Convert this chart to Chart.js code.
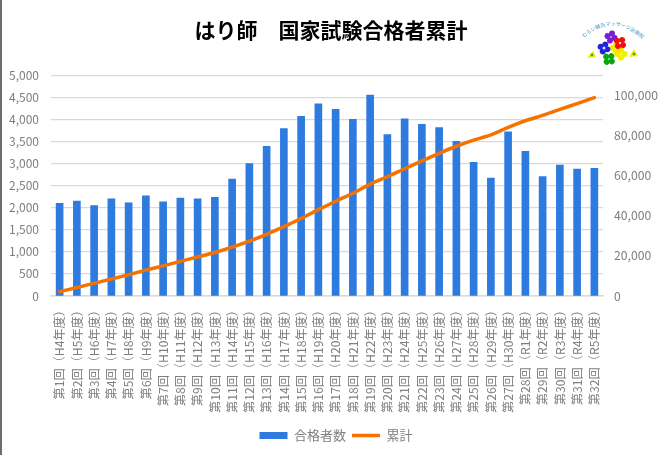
<!DOCTYPE html>
<html lang="ja">
<head>
<meta charset="utf-8">
<script src="https://cdn.jsdelivr.net/npm/chart.js@4"></script>
<style>
  html, body { margin: 0; padding: 0; background: #fff; }
  #wrap { position: relative; width: 662px; height: 455px; overflow: hidden; }
  #edge { position: absolute; left: 0; top: 0; width: 2px; height: 455px; background: #6e6e6e; }
  #chart { position: absolute; left: 0; top: 0; }
  #logo { position: absolute; left: 575px; top: 20px; }
</style>
</head>
<body>
<div id="wrap">
  <canvas id="chart" width="662" height="455"></canvas>
  <div id="edge"></div>
  <svg id="logo" width="75" height="50" viewBox="0 0 75 50">
    <defs>
      <path id="arc" d="M8 19 Q 37 -8 67 19"></path>
      <g id="petals">
        <circle cx="0" cy="-3.6" r="3"></circle>
        <circle cx="3.6" cy="0" r="3"></circle>
        <circle cx="0" cy="3.6" r="3"></circle>
        <circle cx="-3.6" cy="0" r="3"></circle>
      </g>
    </defs>
    <text font-family="Noto Sans CJK JP" font-size="5" fill="#3f97b8"><textPath href="#arc" startOffset="2%">むらい鍼灸マッサージ治療院</textPath></text>
    <polygon points="12,38 18,31 21,37" fill="#f6f000"></polygon>
    <polygon points="54,37 59,29 63,36" fill="#f6f000"></polygon>
    <circle cx="17" cy="35" r="1.4" fill="#3fa535"></circle>
    <circle cx="59" cy="34" r="1.4" fill="#3fa535"></circle>
    <use href="#petals" x="41" y="28" fill="#f6ee00"></use>
    <use href="#petals" x="46" y="34" fill="#f6ee00"></use>
    <use href="#petals" x="36" y="17" fill="#7a1fd6" transform="rotate(15 36 17)"></use>
    <use href="#petals" x="45" y="23" fill="#ee1111" transform="rotate(35 45 23)"></use>
    <use href="#petals" x="29" y="28" fill="#2222dd" transform="rotate(20 29 28)"></use>
    <use href="#petals" x="34" y="39" fill="#0da50d" transform="rotate(40 34 39)"></use>
    <circle cx="29" cy="28" r="1.5" fill="#cfd8ff"></circle>
    <circle cx="45" cy="23" r="1.2" fill="#ffd9a0"></circle>
  </svg>
</div>
<script>
// 試験回と年度
const kai = ['第1回','第2回','第3回','第4回','第5回','第6回','第7回','第8回','第9回','第10回','第11回','第12回','第13回','第14回','第15回','第16回','第17回','第18回','第19回','第20回','第21回','第22回','第23回','第24回','第25回','第26回','第27回','第28回','第29回','第30回','第31回','第32回'];
const nendo = ['H4','H5','H6','H7','H8','H9','H10','H11','H12','H13','H14','H15','H16','H17','H18','H19','H20','H21','H22','H23','H24','H25','H26','H27','H28','H29','H30','R1','R2','R3','R4','R5'];
const passed = [2100,2150,2050,2200,2110,2270,2130,2220,2200,2235,2650,3000,3390,3790,4070,4350,4225,4000,4550,3655,4010,3890,3815,3505,3025,2670,3715,3275,2705,2965,2875,2890];
const total = [2100,4250,6300,8500,10600,12900,15000,17250,19450,21700,24350,27350,30750,34550,38600,43000,47200,51200,55750,59400,63400,67300,71100,74600,77650,80300,84000,87300,90000,92950,95850,98850];
const rightTicks = [0,20000,40000,60000,80000,100000];

const labels = kai.map((k, i) => `${k}（${nendo[i]}年度）`);
const FONT = '"Noto Sans CJK JP", "Noto Sans", sans-serif';
const GREY = '#7f7f7f';
const fmt = new Intl.NumberFormat('en-US');

// 凡例を少し右へ
const legendShift = {
  id: 'legendShift',
  afterLayout(chart) { chart.legend.left += 5; chart.legend.right += 5; }
};

new Chart(document.getElementById('chart'), {
  plugins: [legendShift],
  data: {
    labels: labels,
    datasets: [
      { type: 'bar', label: '合格者数', data: passed, yAxisID: 'y', order: 2,
        backgroundColor: '#2e7be0', barThickness: 7 },
      { type: 'line', label: '累計', data: total, yAxisID: 'y2', order: 1,
        borderColor: '#f57200', backgroundColor: '#f57200', borderWidth: 3.5,
        pointRadius: 0, tension: 0.2, borderCapStyle: 'round' }
    ]
  },
  options: {
    responsive: false,
    animation: false,
    devicePixelRatio: 1,
    layout: { padding: { top: 17, bottom: 3 } },
    plugins: {
      title: { display: true, text: 'はり師　国家試験合格者累計', color: '#000',
        font: { family: FONT, size: 21, weight: 'bold' }, padding: { top: 0, bottom: 33 } },
      legend: { position: 'bottom',
        labels: { color: GREY, font: { family: FONT, size: 13 }, usePointStyle: true, pointStyleWidth: 28, boxHeight: 7, padding: 6,
          sort: (a, b) => a.datasetIndex - b.datasetIndex,
          generateLabels: chart => Chart.defaults.plugins.legend.labels.generateLabels(chart).map(item => {
            const isLine = item.datasetIndex === 1;
            return { ...item, pointStyle: isLine ? 'line' : 'rect', lineWidth: isLine ? 3.5 : 0,
              strokeStyle: isLine ? '#f57200' : '#2e7be0', fillStyle: isLine ? '#f57200' : '#2e7be0' };
          }) } },
      tooltip: { enabled: false }
    },
    scales: {
      x: {
        grid: { display: false, drawTicks: false },
        border: { color: '#d9d9d9', width: 1.5 },
        afterFit: s => { s.height = 127; },
        ticks: { autoSkip: false, minRotation: 90, maxRotation: 90, padding: 8, color: GREY,
          font: { family: FONT, size: 12.2 } }
      },
      y: {
        position: 'left', min: 0, max: 5000,
        afterFit: s => { s.width = 51; },
        grid: { color: '#d9d9d9', lineWidth: 1.3, drawTicks: false },
        border: { display: false },
        ticks: { stepSize: 500, padding: 12, color: GREY, font: { family: FONT, size: 12 },
          callback: v => fmt.format(v) }
      },
      y2: {
        position: 'right', min: 0, max: 110000,
        afterFit: s => { s.width = 59; },
        afterBuildTicks: s => { s.ticks = rightTicks.map(value => ({ value })); },
        grid: { display: false, drawTicks: false },
        border: { display: false },
        ticks: { padding: 11, color: GREY, font: { family: FONT, size: 12.2 },
          callback: v => fmt.format(v) }
      }
    }
  }
});
</script>
</body>
</html>
